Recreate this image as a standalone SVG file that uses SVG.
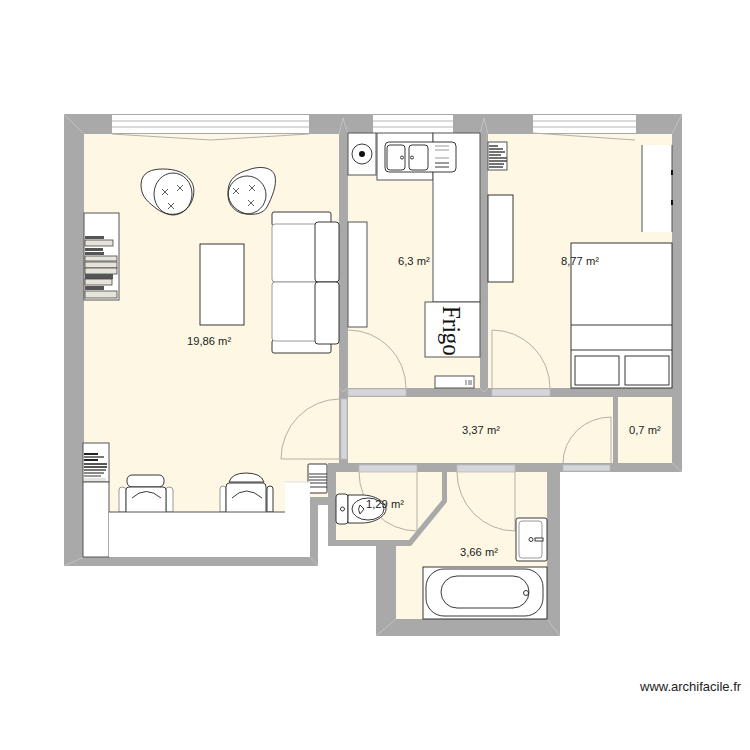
<svg xmlns="http://www.w3.org/2000/svg" width="750" height="750" viewBox="0 0 750 750">
<style>
.wall{fill:#a9a9a9}
.room{fill:#fdf7e4}
.mitre{stroke:#c8c8c8;stroke-width:.8;fill:none}
.win{fill:#fff}
.winl{stroke:#b5b5b5;stroke-width:1}
.thr{fill:#d4d6da;stroke:#bcbcbc;stroke-width:.8}
.door{fill:none;stroke:#b4b0a6;stroke-width:1}
.f{fill:#fff;stroke:#222;stroke-width:.9}
.fk{fill:#fff;stroke:#555;stroke-width:1}
.ln{fill:none;stroke:#222;stroke-width:.9}
.lg{fill:#fff;stroke:#999;stroke-width:1}
.nw{fill:#fff;stroke:none}
.bd{fill:#555}
.bl{fill:#e6e3da;stroke:#444;stroke-width:.8}
.lab{font:11.200px "Liberation Sans",Arial,sans-serif;fill:#222}
</style>
<defs>
<path id="star" d="M-3-3 3 3M3-3-3 3" fill="none" stroke="#333" stroke-width=".8"/>
</defs>
<g id="structure">
<path class="wall" d="M64 114H682V472H560V636H376V546H328V505H318V566H64Z"/>
<path class="room" d="M84 134H339V463H328V497H310V557H84Z"/>
<path class="room" d="M348 134H480V388H348Z"/>
<path class="room" d="M488 134H672V388H488Z"/>
<path class="room" d="M348 397H613V463H348Z"/>
<path class="room" d="M618 397H672V463H618Z"/>
<path class="room" d="M336 472H442V500L409 540H336Z"/>
<path class="room" d="M447 472H547V619H396V546H411L447 502Z"/>
<path class="mitre" d="M64 114 84 134M339 134 343 118 348 134M480 134 484 118 488 134M672 134 682 114M64 566 84 557M310 557 318 566M672 463 682 472M339 388 343 392 348 388M480 388 484 392 488 388M376 636 396 619M547 619 560 636"/>
</g>
<g id="windows">
<rect class="win" x="112" y="115" width="197" height="18"/>
<path class="winl" d="M112 121H309M112 127H309"/>
<rect class="win" x="373" y="115" width="80" height="18"/>
<path class="winl" d="M373 121H453M373 127H453"/>
<rect class="win" x="533" y="115" width="103" height="18"/>
<path class="winl" d="M533 121H636M533 127H636"/>
<path class="door" d="M112 134 211 140 309 134M533 133 635 140"/>
</g>
<g id="doors">
<rect class="thr" x="348" y="389" width="58" height="7"/>
<rect class="thr" x="492" y="389" width="58" height="7"/>
<rect class="thr" x="341" y="399" width="6" height="60"/>
<rect class="thr" x="359" y="465" width="58" height="7"/>
<rect class="thr" x="457" y="465" width="58" height="7"/>
<rect class="thr" x="563" y="465" width="47" height="6"/>
<path class="door" d="M348 330A58 58 0 0 1 406 388"/>
<path class="door" d="M492 388V330A58 58 0 0 1 550 388"/>
<path class="door" d="M340 399A59 60 0 0 0 281 459H340"/>
<path class="door" d="M359 472A58 59 0 0 0 417 531V472"/>
<path class="door" d="M457 472A58 59 0 0 0 515 531V472"/>
<path class="door" d="M563 463A48 46 0 0 1 611 417V463"/>
</g>
<g id="living-furniture">
<g id="armchair-left">
<path class="f" d="M141 185C141 172 152 169 163 169C175 169 185 172 191 181C197 190 193 205 184 211C174 217 164 214 157 209C149 203 141 197 141 185Z"/>
<ellipse class="ln" cx="173" cy="194" rx="19" ry="21"/>
<use href="#star" x="165" y="192"/><use href="#star" x="180" y="188"/><use href="#star" x="171" y="206"/>
</g>
<g id="armchair-right">
<path class="f" d="M228 192C228 178 238 173 248 170C258 166 272 166 275 176C277 186 272 197 267 207C263 214 254 215 247 214C238 212 228 205 228 192Z"/>
<ellipse class="ln" cx="247" cy="195" rx="19" ry="19"/>
<use href="#star" x="236" y="191"/><use href="#star" x="252" y="188"/><use href="#star" x="251" y="203"/>
</g>
<g id="sofa">
<rect class="f" x="272" y="212" width="59" height="14" rx="2"/>
<rect class="f" x="272" y="340" width="59" height="13" rx="2"/>
<rect class="lg" x="272" y="224" width="46" height="58" rx="3"/>
<rect class="lg" x="272" y="282" width="46" height="59" rx="3"/>
<rect class="f" x="315" y="222" width="24" height="60" rx="3"/>
<rect class="f" x="315" y="282" width="24" height="62" rx="3"/>
</g>
<rect id="coffee-table" class="f" x="200" y="244" width="44" height="81"/>
<g id="bookcase">
<rect class="fk" x="84" y="213" width="35" height="87"/>
<rect class="bd" x="85" y="236" width="19" height="3"/>
<rect class="bl" x="85" y="240" width="28" height="6"/>
<rect class="bd" x="85" y="248" width="18" height="3"/>
<rect class="bd" x="85" y="252" width="19" height="3"/>
<rect class="bl" x="85" y="256" width="32" height="5"/>
<rect class="bl" x="85" y="262" width="32" height="6"/>
<rect class="bl" x="85" y="268" width="32" height="6"/>
<rect class="bd" x="85" y="274" width="28" height="5"/>
<rect class="bl" x="85" y="279" width="27" height="6"/>
<rect class="bd" x="85" y="286" width="19" height="4"/>
<rect class="bl" x="85" y="291" width="32" height="7"/>
</g>
<g id="bookcase-small">
<rect class="fk" x="83" y="443" width="26" height="39"/>
<rect x="84" y="453" width="14" height="2" fill="#222"/>
<rect x="84" y="456" width="20" height="2" fill="#777"/>
<rect x="84" y="459" width="14" height="2" fill="#222"/>
<rect x="84" y="463" width="23" height="2" fill="#555"/>
<rect x="84" y="466" width="23" height="2" fill="#555"/>
<rect x="84" y="469" width="22" height="2" fill="#777"/>
<rect x="84" y="472" width="20" height="2" fill="#888"/>
<rect x="84" y="475" width="17" height="2" fill="#999"/>
<rect x="84" y="478" width="22" height="3" fill="#e6e3da"/>
</g>
<rect id="cabinet" class="fk" x="83" y="482" width="26" height="75"/>
<g id="chair-left">
<rect class="f" x="127" y="475" width="37" height="12" rx="5"/>
<path class="lg" d="M119 512V490Q119 487 122 487Q126 487 126 490V512Z"/>
<path class="lg" d="M166 512V490Q166 487 169 487Q173 487 173 490V512Z"/>
<path class="f" d="M126 512V490Q126 487 129 487H163Q166 487 166 490V512"/>
<path class="ln" d="M132 498Q146 485 161 498"/>
</g>
<g id="chair-right">
<path class="f" d="M229 482Q232 473 246 473Q261 473 264 482Z"/>
<path class="lg" d="M220 512V489Q220 486 223 486Q226 486 226 489V512Z"/>
<path class="f" d="M267 512V489Q267 486 270 486Q273 486 273 489V512Z"/>
<path class="f" d="M226 512V487Q226 483 229 483H263Q266 483 266 487V512"/>
<path class="ln" d="M232 498Q246 484 262 498"/>
</g>
<g id="shelf-small">
<rect class="f" x="308" y="464" width="19" height="29" rx="1"/>
<path class="ln" d="M309 474H327M309 477H327M309 480H327M309 483H327M309 487H327"/>
</g>
<g id="dining-table">
<path class="nw" d="M109 512H285V482H310V557H109Z"/>
<path d="M109 512H285" stroke="#555" fill="none"/>
<path d="M285 482H310" stroke="#ddd" fill="none"/>
</g>
</g>
<g id="kitchen-furniture">
<rect class="fk" x="348" y="133" width="28" height="42"/>
<circle class="ln" cx="362" cy="154" r="10"/>
<circle cx="362" cy="154" r="3" fill="#111"/>
<rect class="fk" x="377" y="133" width="56" height="47"/>
<rect class="fk" x="433" y="133" width="47" height="169"/>
<rect class="f" x="385" y="142" width="71" height="30" rx="4"/>
<rect class="f" x="387" y="145" width="18" height="25" rx="3"/>
<rect class="f" x="409" y="145" width="19" height="25" rx="3"/>
<circle class="ln" cx="402" cy="157.500" r="1.500"/>
<circle class="ln" cx="412" cy="157.500" r="1.500"/>
<path class="lg" d="M435 146H449M435 150H449M435 158H449"/>
<path class="ln" d="M435 163H449M435 167H449"/>
<rect class="fk" x="425" y="302" width="55" height="55"/>
<text transform="translate(443 306) rotate(90) scale(.92 1)" style="font:25px 'Liberation Serif','Times New Roman',serif;fill:#111">Frigo</text>
<rect class="fk" x="348" y="222" width="19" height="105"/>
<rect class="fk" x="435" y="376" width="39" height="12"/>
<path d="M466 380V385M469 380V385M471 380V385" stroke="#666" fill="none"/>
</g>
<g id="bedroom-furniture">
<rect class="fk" x="488" y="142" width="19" height="28"/>
<path d="M489 146H498M489 149H503M489 152H505M489 155H501M489 158H507M489 161H507M489 164H504M489 167H503" stroke="#444" stroke-width="1.600" fill="none"/>
<rect class="f" x="488" y="195" width="25" height="87"/>
<rect class="nw" x="642" y="145" width="30" height="87"/>
<path d="M642 145V232M672 145V232" stroke="#555" fill="none"/>
<path d="M672 170V175M672 200V205" stroke="#111" stroke-width="2" fill="none"/>
<g id="bed">
<rect class="f" x="571" y="243" width="101" height="145"/>
<path class="ln" d="M571 325H672M571 350H672"/>
<rect class="f" x="575" y="356" width="44" height="29"/>
<rect class="f" x="625" y="356" width="44" height="29"/>
</g>
</g>
<g id="bath-furniture">
<g id="toilet">
<rect class="f" x="336" y="494" width="12" height="30" rx="3"/>
<circle class="ln" cx="342.500" cy="509" r="2"/>
<path class="f" d="M348 495H362C375 495 386 502 386 509C386 516 375 523 362 523H348Z"/>
<ellipse class="ln" cx="368" cy="509" rx="16" ry="11"/>
<path class="ln" d="M360 505 364 509 360 514Q357 509 360 505Z"/>
</g>
<g id="basin">
<rect class="f" x="516" y="518" width="31" height="43" rx="2"/>
<rect class="lg" x="519" y="521" width="23" height="37" rx="3"/>
<circle class="ln" cx="531" cy="539.500" r="2"/>
<rect class="f" x="535" y="538" width="8" height="3"/>
</g>
<g id="bathtub">
<rect class="f" x="423" y="567" width="124" height="52"/>
<rect class="ln" x="426" y="569" width="117" height="47" rx="18"/>
<rect class="ln" x="441" y="576" width="88" height="32" rx="16"/>
<circle class="ln" cx="526" cy="593" r="2.500"/>
</g>
</g>
<g id="labels">
<text class="lab" x="187" y="345">19,86 m²</text>
<text class="lab" x="398" y="265">6,3 m²</text>
<text class="lab" x="561" y="265">8,77 m²</text>
<text class="lab" x="462" y="434">3,37 m²</text>
<text class="lab" x="629" y="434">0,7 m²</text>
<text class="lab" x="366" y="508">1,29 m²</text>
<text class="lab" x="460" y="556">3,66 m²</text>
<text x="640" y="691" style="font:13px 'Liberation Sans',Arial,sans-serif;fill:#222">www.archifacile.fr</text>
</g>
</svg>
